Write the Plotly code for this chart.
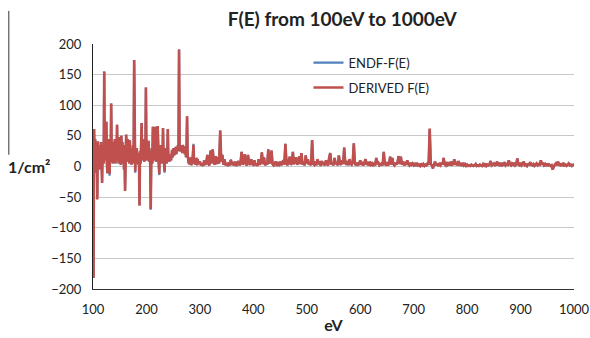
import plotly.graph_objects as go

# Energy grids (eV): 1 eV steps through the dense low-energy resonances, 2 eV steps above 300 eV
energy_low = list(range(100, 300))
energy_high = list(range(300, 1001, 2))

# DERIVED F(E) values (1/cm^2), 100-299 eV, ten per row
derived_low = [
    0, -182, 61, 10, 45, -10, 30, 20, -54, 41,       # 100
    5, 35, -5, 30, 8, 40, 12, -27, 35, 30,           # 110
    5, 155, 10, 40, 15, 73, 5, -11, 45, 10,          # 120
    45, -12, 30, 8, 103, 15, 40, 5, 40, 10,          # 130
    30, 45, 5, 35, 10, 68, 15, 40, 5, 48,            # 140
    10, 30, 3, 50, 15, 40, 5, 35, -5, 20,            # 150
    -40, 25, 52, 30, 8, 45, 12, 35, 5, 43,           # 160
    10, 30, 3, 25, 5, 35, 8, 174, 10, -8,            # 170
    25, 5, 30, 8, 22, 3, 20, -64, 25, 5,             # 180
    35, 71, 10, 40, 15, 45, 8, 30, 10, 129,          # 190
    15, 40, 10, 30, 42, 8, 25, 5, -70, 10,           # 200
    30, 5, 65, 15, 40, 10, 65, 20, 8, 35,            # 210
    10, 66, 15, 5, -12, 30, 8, 35, 5, 25,            # 220
    10, 63, 15, 5, -8, 30, 8, 25, 5, 20,             # 230
    61, 10, 20, 8, 15, 18, 10, 22, 27, 15,           # 240
    25, 30, 18, 28, 22, 32, 20, 30, 25, 35,          # 250
    28, 191, 30, 25, 35, 28, 33, 22, 35, 30,         # 260
    25, 32, 20, 33, 15, 28, 82, 20, 10, 5,           # 270
    12, 3, 8, 15, 2, 10, 5, 20, 35, 11,              # 280
    10, 3, 12, 5, 14, 2, 12, 4, 8, 6,                # 290
]

# DERIVED F(E) values (1/cm^2), 300-1000 eV in 2 eV steps, 25 per row (50 eV)
derived_high = [
    8, 2, 5, 1, 10, 3, 6, 19, 4, 2, 26, 5, 28, 7, 3, 17, 4, 15, 5, 59, 8, 19, 3, 12, 2,      # 300
    6, 1, 4, 2, 11, 3, 5, 2, 8, 1, 4, 9, 2, 5, 24, 3, 7, 20, 4, 2, 19, 5, 3, 12, 4,          # 350
    3, 10, 2, 5, 1, 12, 3, 6, 23, 4, 15, 2, 6, 3, 28, 5, 8, 26, 4, 2, 6, 8, 1, 5, 3,         # 400
    8, 2, 5, 10, 3, 37, 6, 2, 9, 16, 3, 5, 24, 4, 8, 15, 3, 6, 17, 4, 22, 3, 7, 2, 18,       # 450
    5, 12, 3, 6, 2, 43, 5, 3, 8, 2, 12, 4, 6, 1, 9, 3, 5, 2, 10, 4, 2, 15, 22, 3, 6,         # 500
    2, 14, 4, 7, 2, 18, 5, 3, 10, 4, 31, 6, 3, 9, 2, 12, 5, 3, 7, 38, 5, 2, 6, 3, 4,         # 550
    10, 3, 5, 2, 7, 12, 3, 5, 2, 8, 3, 5, 1, 4, 2, 14, 4, 6, 2, 3, 5, 2, 24, 4, 3,           # 600
    7, 2, 5, 16, 3, 14, 4, 2, 6, 3, 8, 17, 4, 16, 3, 8, 2, 5, 3, 10, 4, 2, 6, 3, 5,          # 650
    2, 4, 1, 6, 2, 3, 1, 5, 2, 4, 1, 3, 2, 5, 3, 62, 4, 2, -3, 3, 8, 2, 5, 1, 4,             # 700
    2, 6, 3, 14, 4, 2, 7, 3, 5, 2, 8, 3, 4, 12, 3, 5, 2, 9, 3, 4, 1, 6, 2, 4, 1,             # 750
    3, 1, 2, 1, 3, 2, 1, 2, 4, 1, 2, 1, 3, 2, 1, 4, 2, 5, 1, 3, 2, 4, 9, 2, 3,               # 800
    5, 2, 3, 8, 2, 4, 1, 6, 2, 3, 7, 2, 4, 3, 10, 4, 2, 5, 3, 6, 2, 4, 13, 3, 2,             # 850
    6, 2, 4, 8, 2, 3, 1, 5, 2, 7, 3, 2, 4, 1, 3, 5, 2, 4, 3, 10, 3, 6, 2, 4, 1,              # 900
    5, 2, 3, 1, 2, -5, 1, 3, 5, 2, 8, 3, 2, 5, 1, 6, 2, 3, 1, 4, 5, 2, 3, 1, 3,              # 950
    4,                                                                                       # 1000
]

# ENDF-F(E) points that differ from the derived curve (energy eV -> 1/cm^2)
endf_diff = {
    108: -50, 117: -25, 131: -15, 160: -37, 179: -10, 187: -62,
    224: -14, 234: -10, 288: 37, 338: 58, 520: 10, 730: 61,
}

energy = energy_low + energy_high
derived_f = derived_low + derived_high
endf_f = [endf_diff.get(e, v) for e, v in zip(energy, derived_f)]

x_ticks = list(range(100, 1001, 100))
y_ticks = list(range(-200, 201, 50))

BLUE = "#4F81BD"
RED = "#C0504D"
FONT = "Lato"
INK = "#222222"

fig = go.Figure()
fig.add_trace(go.Scatter(
    x=energy, y=endf_f, mode="lines", name="ENDF-F(E)",
    line=dict(color=BLUE, width=2.2), legendgroup="endf",
))
fig.add_trace(go.Scatter(
    x=energy, y=derived_f, mode="lines", name="DERIVED F(E)",
    line=dict(color=RED, width=2.6), legendgroup="derived",
))

fig.update_layout(
    width=590, height=338,
    margin=dict(l=93, r=16, t=44, b=49),
    paper_bgcolor="white", plot_bgcolor="white",
    font=dict(family=FONT, size=13, color=INK),
    title=dict(
        text="<b>F(E) from 100eV to 1000eV</b>",
        x=0.58, xanchor="center", y=0.944, yanchor="middle",
        font=dict(family=FONT, size=19, color=INK),
    ),
    showlegend=True,
    legend=dict(
        x=0.448, y=0.985, xanchor="left", yanchor="top",
        bgcolor="rgba(0,0,0,0)", font=dict(family=FONT, size=13, color=INK),
        tracegroupgap=5, itemwidth=30,
    ),
    xaxis=dict(
        range=[100, 1000], tickvals=x_ticks, showgrid=False, zeroline=False,
        showline=True, linecolor="#333333", linewidth=1, automargin=False,
        ticks="", ticklabelstandoff=8, tickfont=dict(size=13, color=INK),
        title=dict(text="<b>eV</b>", font=dict(size=16, color=INK), standoff=4),
    ),
    yaxis=dict(
        range=[-200, 200], tickvals=y_ticks, showgrid=True, gridcolor="#C8C8C8",
        gridwidth=1, zeroline=False, showline=True, linecolor=INK,
        linewidth=1, ticks="", ticklabelstandoff=8, automargin=False,
        tickfont=dict(size=13, color=INK),
    ),
)

# horizontal y-axis label
fig.add_annotation(
    text="<b>1/cm²</b>", xref="paper", yref="y", x=-0.181, y=0,
    xanchor="left", yanchor="middle", showarrow=False,
    font=dict(family=FONT, size=16, color=INK),
)

# thin vertical rule at the far left edge
fig.add_shape(
    type="line", xref="paper", yref="paper",
    x0=-0.175, x1=-0.175, y0=0.548, y1=1.135,
    line=dict(color="#333333", width=1),
)

fig.write_html("out.html")
